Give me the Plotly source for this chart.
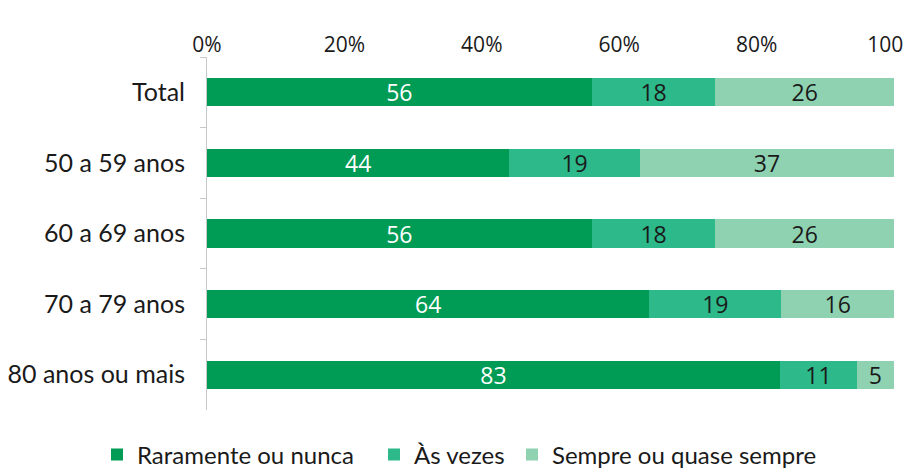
import plotly.graph_objects as go

categories = ["Total", "50 a 59 anos", "60 a 69 anos", "70 a 79 anos", "80 anos ou mais"]
series_names = ["Raramente ou nunca", "Às vezes", "Sempre ou quase sempre"]
raramente = [56, 44, 56, 64.4, 83.4]
as_vezes = [18, 19, 18, 19.2, 11.2]
sempre = [26, 37, 26, 16.4, 5.4]
x_ticks = [0, 20, 40, 60, 80, 100]
x_tick_labels = [f"{v}%" for v in x_ticks]

colors = ["#009B55", "#2DB98A", "#8FD2B1"]
text_colors = ["#ffffff", "#1a1a1a", "#1a1a1a"]
legend_ids = ["legend", "legend2", "legend3"]

fig = go.Figure()
for name, vals, c, tc, lg in zip(series_names, [raramente, as_vezes, sempre], colors, text_colors, legend_ids):
    fig.add_trace(go.Bar(
        y=categories, x=vals, name=name, orientation="h", legend=lg, showlegend=True,
        marker=dict(color=c, line=dict(width=0)),
        texttemplate="%{x:.0f}", textposition="inside", insidetextanchor="middle",
        constraintext="none",
        textangle=0, textfont=dict(color=tc, size=23, family="Open Sans"),
        hoverinfo="skip",
    ))

legend_style = dict(orientation="h", xanchor="left", xref="container", y=-0.127, yanchor="middle",
                    font=dict(size=24, family="Lato", color="#1a1a1a"),
                    itemwidth=30, bgcolor="rgba(0,0,0,0)", visible=True)

# page body has an 8px margin, so the figure is 8px smaller and margins are shifted
fig.update_layout(
    barmode="stack", bargap=0.6,
    width=904, height=460,
    margin=dict(l=199, r=18, t=49, b=58, autoexpand=False),
    paper_bgcolor="white", plot_bgcolor="white",
    showlegend=True,
    legend=dict(x=89 / 904, **legend_style),
    legend2=dict(x=366 / 904, **legend_style),
    legend3=dict(x=504 / 904, **legend_style),
    xaxis=dict(side="top", range=[0, 100], tickmode="array", tickvals=x_ticks, ticktext=x_tick_labels,
               showgrid=False, zeroline=False, showline=False, ticks="", automargin=False,
               ticklabeloverflow="allow",
               tickfont=dict(size=21, family="Open Sans", color="#1a1a1a")),
    yaxis=dict(categoryorder="array", categoryarray=categories, autorange="reversed",
               showline=True, linecolor="#c8c8c8", linewidth=1, automargin=False,
               ticks="outside", tickson="boundaries", ticklen=6, tickcolor="#c8c8c8",
               ticklabelstandoff=16,
               tickfont=dict(size=25, family="Lato", color="#1a1a1a")),
)

fig.write_html("out.html")
